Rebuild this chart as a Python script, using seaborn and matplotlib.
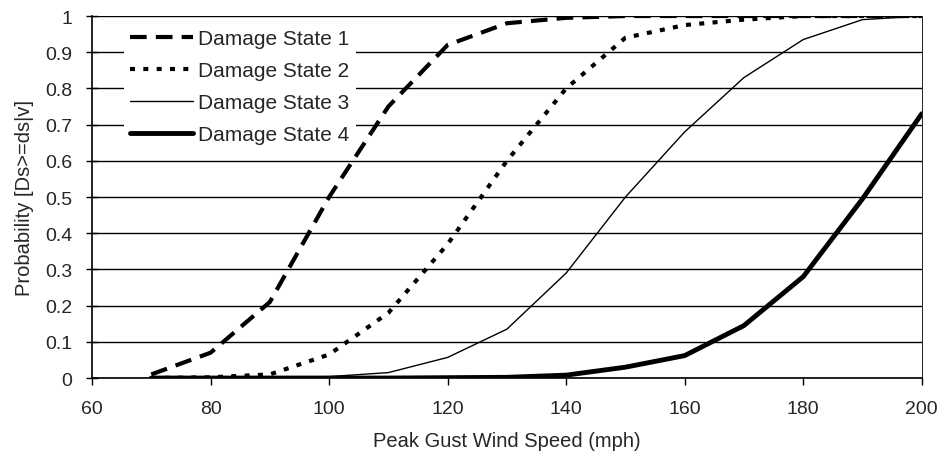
import matplotlib
matplotlib.use("Agg")
import matplotlib.pyplot as plt
import seaborn as sns

# wind speed (mph)
speed = [70, 80, 90, 100, 110, 120, 130, 140, 150, 160, 170, 180, 190, 200]

# probability of reaching/exceeding each damage state
ds1 = [0.01, 0.07, 0.21, 0.50, 0.75, 0.92, 0.98, 0.995, 1.0, 1.0, 1.0, 1.0, 1.0, 1.0]
ds2 = [0.0, 0.002, 0.01, 0.065, 0.18, 0.37, 0.60, 0.80, 0.94, 0.975, 0.99, 1.0, 1.0, 1.0]
ds3 = [0.0, 0.0, 0.002, 0.004, 0.015, 0.057, 0.135, 0.29, 0.50, 0.68, 0.83, 0.935, 0.99, 1.0]
ds4 = [0.0, 0.0, 0.0, 0.0, 0.0, 0.001, 0.002, 0.008, 0.03, 0.062, 0.145, 0.28, 0.495, 0.73]

labels = ["Damage State 1", "Damage State 2", "Damage State 3", "Damage State 4"]

sns.set_style("white")
plt.rcParams['font.family'] = ['Liberation Sans', 'DejaVu Sans']

fig = plt.figure(figsize=(9.45, 4.6), dpi=100)
ax = fig.add_axes([0.0974, 0.176, 0.878, 0.787])

styles = [
    dict(linestyle=(0, (4, 2.2)), linewidth=3.0),
    dict(linestyle=(0, (1.2, 2.0)), linewidth=3.0),
    dict(linestyle="-", linewidth=1.0),
    dict(linestyle="-", linewidth=3.5),
]
for y, lab, st in zip([ds1, ds2, ds3, ds4], labels, styles):
    sns.lineplot(x=speed, y=y, ax=ax, color="black", label=lab, **st)

ax.set_xlim(60, 200)
ax.set_ylim(0, 1)
ax.set_xticks(range(60, 201, 20))
ax.set_yticks([i / 10 for i in range(11)])
ax.set_yticklabels(["0", "0.1", "0.2", "0.3", "0.4", "0.5", "0.6", "0.7", "0.8", "0.9", "1"])
ax.yaxis.grid(True, color="black", linewidth=1.0)
ax.set_axisbelow(True)
ax.spines["top"].set_visible(False)
ax.spines["right"].set_linewidth(0.6)
ax.spines["left"].set_linewidth(1.2)
ax.spines["bottom"].set_linewidth(1.2)
for s in ax.spines.values():
    s.set_color("black")
ax.tick_params(axis="x", direction="out", length=5, width=1, color="black",
               labelsize=14, bottom=True, pad=11)
ax.tick_params(axis="y", direction="inout", length=8, width=1, color="black",
               labelsize=14, left=True, pad=10)

ax.set_xlabel("Peak Gust Wind Speed (mph)", fontsize=14.5, labelpad=10)
ax.set_ylabel("Probability [Ds>=ds|v]", fontsize=14.5, labelpad=8)

# white box behind the legend hides the gridlines, no border
leg = ax.legend(loc="upper left", frameon=True, fontsize=15, handlelength=3.0,
                handletextpad=0.25, labelspacing=0.62, borderaxespad=0, borderpad=0.3,
                bbox_to_anchor=(0.0386, 0.981), fancybox=False)
leg.get_frame().set_facecolor("white")
leg.get_frame().set_edgecolor("none")
leg.get_frame().set_alpha(1)

fig.savefig("out.png", dpi=100)
